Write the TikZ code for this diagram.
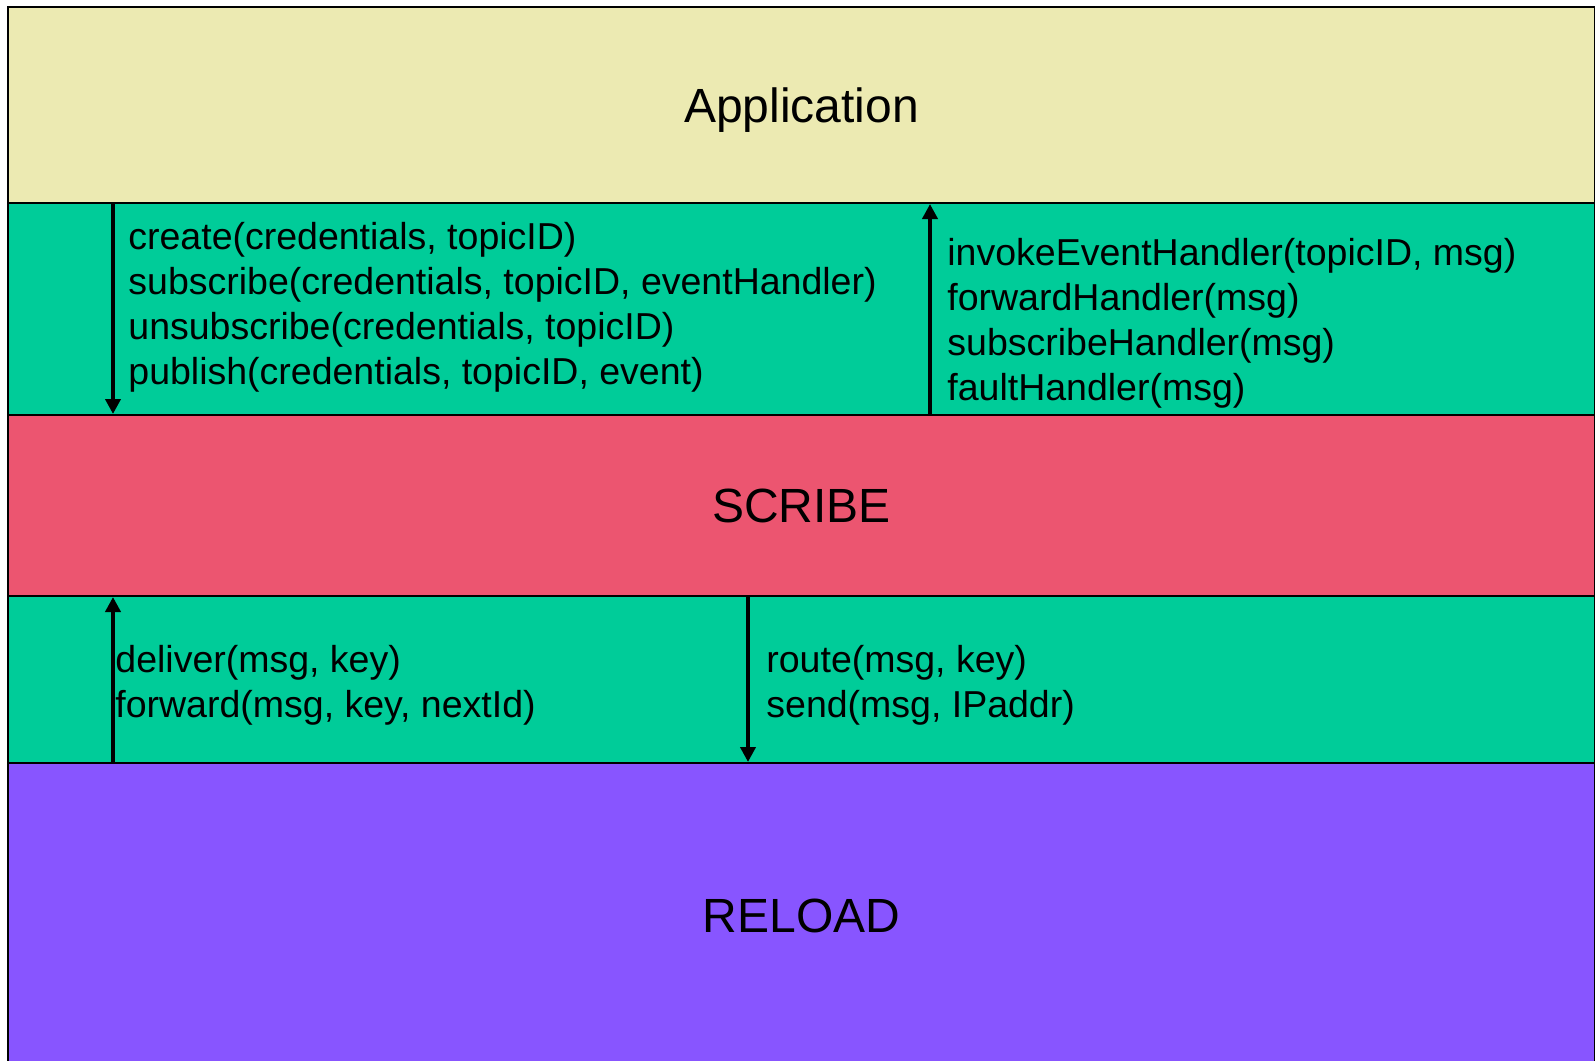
\documentclass[tikz,border=0pt]{standalone}
\usepackage{fontspec}
\setmainfont{Liberation Sans}
\usetikzlibrary{arrows.meta}
\definecolor{appyellow}{RGB}{236,234,178}
\definecolor{midgreen}{RGB}{0,204,153}
\definecolor{scribered}{RGB}{236,85,112}
\definecolor{reloadpurple}{RGB}{136,85,255}
\tikzset{
  layer/.style={draw=black, line width=1pt, inner sep=0pt, anchor=north west,
    minimum width=793.5pt, font=\fontsize{24}{28}\selectfont},
  calls/.style={inner sep=0pt, anchor=west, align=left,
    font=\fontsize{18.75}{22.5}\selectfont},
  callarrow/.style={line width=2pt, -{Triangle[length=7.5pt,width=7.5pt]}}
}
\begin{document}
\begin{tikzpicture}[x=0.5pt,y=-0.5pt]
\useasboundingbox (0,0) rectangle (1595,1060);
\node[layer, fill=appyellow, minimum height=98pt, text depth=0pt] (app) at (7,6) {Application};
\node[layer, fill=midgreen, minimum height=106pt] (api) at (7,202) {};
\node[layer, fill=scribered, minimum height=90.5pt] (scribe) at (7,414) {SCRIBE};
\node[layer, fill=midgreen, minimum height=83.5pt] (kbr) at (7,595) {};
\node[layer, fill=reloadpurple, minimum height=153pt] (reload) at (7,762) {RELOAD};

\coordinate (x1) at (113,0);
\coordinate (x2) at (930,0);
\coordinate (x3) at (748,0);

\draw[callarrow] (app.south -| x1) -- (scribe.north -| x1);
\draw[callarrow] (scribe.north -| x2) -- (app.south -| x2);
\draw[callarrow] (reload.north -| x1) -- (scribe.south -| x1);
\draw[callarrow] (scribe.south -| x3) -- (reload.north -| x3);

\node[calls] (down1) at (128,307) {create(credentials, topicID)\\subscribe(credentials, topicID, eventHandler)\\unsubscribe(credentials, topicID)\\publish(credentials, topicID, event)};
\node[calls] (up1) at (947,323) {invokeEventHandler(topicID, msg)\\forwardHandler(msg)\\subscribeHandler(msg)\\faultHandler(msg)};
\node[calls] (up2) at (115,685) {deliver(msg, key)\\forward(msg, key, nextId)};
\node[calls] (down2) at (766,685) {route(msg, key)\\send(msg, IPaddr)};
\end{tikzpicture}
\end{document}
